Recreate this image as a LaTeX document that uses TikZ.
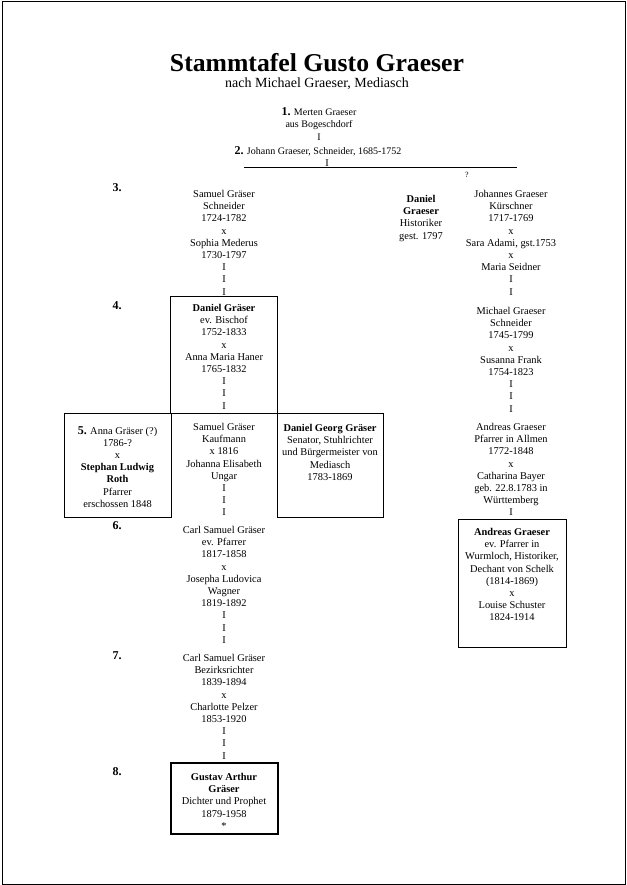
\documentclass[tikz,border=0pt]{standalone}
\usepackage{fontspec}
\setmainfont{Liberation Serif}
\begin{document}
\begin{tikzpicture}[x=1pt,y=-1pt,
  every node/.style={inner sep=0pt},
  txt/.style={font=\fontsize{10.4}{12.2}\selectfont, align=center, anchor=north},
  gen/.style={font=\bfseries\fontsize{12}{14}\selectfont, anchor=base},
  famebox/.style={draw, line width=0.9pt, anchor=north west},
  thickbox/.style={draw, line width=2pt, anchor=north west},
  rule/.style={line width=0.8pt}]
\useasboundingbox (0,0) rectangle (626,885);
\node[draw, line width=1pt, minimum width=623pt, minimum height=882pt, anchor=north west] (frame) at (1.5,1.5) {};

% title
\node[font=\bfseries\fontsize{25.7}{30}\selectfont, anchor=base] (title) at (317,72) {Stammtafel Gusto Graeser};
\node[font=\fontsize{14}{16}\selectfont, anchor=base] (sub) at (317,88) {nach Michael Graeser, Mediasch};

% generations 1 and 2
\node[txt, font=\fontsize{10}{12.5}\selectfont] (g1) at (319,107) {{\bfseries\fontsize{12}{12}\selectfont 1.} Merten Graeser\\aus Bogeschdorf\\I};
\node[txt, font=\fontsize{10}{12.5}\selectfont] (g2) at (318,146) {{\bfseries\fontsize{12}{12}\selectfont 2.} Johann Graeser, Schneider, 1685-1752};
\node[txt] (g2i) at (327,159) {I};
\coordinate (hl) at (244,167);
\coordinate (hr) at (517,167);
\draw[rule] (hl) -- (hr);
\node[txt, font=\fontsize{8}{10}\selectfont] (q) at (467,172) {?};

% generation labels
\node[gen] (n3) at (117,192) {3.};
\node[gen] (n4) at (117,309) {4.};
\node[gen] (n6) at (117,529) {6.};
\node[gen] (n7) at (117,659) {7.};
\node[gen] (n8) at (117,775) {8.};

% boxes
\node[famebox, minimum width=107pt, minimum height=117pt] (b4) at (170,296) {};
\node[famebox, minimum width=107pt, minimum height=104pt] (b5) at (64,413) {};
\node[famebox, minimum width=106pt, minimum height=104pt] (b6) at (277,413) {};
\node[famebox, minimum width=108pt, minimum height=128pt] (ba) at (458,519) {};
\node[thickbox, minimum width=107pt, minimum height=71pt] (b8) at (170,762) {};

% left column
\node[txt] (sg3) at (224,190) {Samuel Gräser\\Schneider\\1724-1782\\x\\Sophia Mederus\\1730-1797\\I\\I\\I};
\node[txt] (dg4) at (224,304) {\textbf{Daniel Gräser}\\ev. Bischof\\1752-1833\\x\\Anna Maria Haner\\1765-1832\\I\\I\\I};
\node[txt] (ag5) at (117.5,426) {{\bfseries\fontsize{12}{12}\selectfont 5.} Anna Gräser (?)\\1786-?\\x\\\textbf{Stephan Ludwig}\\\textbf{Roth}\\Pfarrer\\erschossen 1848};
\node[txt] (sg5) at (224,423) {Samuel Gräser\\Kaufmann\\x 1816\\Johanna Elisabeth\\Ungar\\I\\I\\I};
\node[txt] (dgg) at (330,424) {\textbf{Daniel Georg Gräser}\\Senator, Stuhlrichter\\und Bürgermeister von\\Mediasch\\1783-1869};
\node[txt] (cs6) at (224,526) {Carl Samuel Gräser\\ev. Pfarrer\\1817-1858\\x\\Josepha Ludovica\\Wagner\\1819-1892\\I\\I\\I};
\node[txt] (cs7) at (224,654) {Carl Samuel Gräser\\Bezirksrichter\\1839-1894\\x\\Charlotte Pelzer\\1853-1920\\I\\I\\I};
\node[txt] (ga8) at (224,773) {\textbf{Gustav Arthur}\\\textbf{Gräser}\\Dichter und Prophet\\1879-1958\\*};

% right column
\node[txt] (dgh) at (421,195) {\textbf{Daniel}\\\textbf{Graeser}\\Historiker\\gest. 1797};
\node[txt] (jg) at (511,190) {Johannes Graeser\\Kürschner\\1717-1769\\x\\Sara Adami, gst.1753\\x\\Maria Seidner\\I\\I};
\node[txt] (mg) at (511,307) {Michael Graeser\\Schneider\\1745-1799\\x\\Susanna Frank\\1754-1823\\I\\I\\I};
\node[txt] (agp) at (511,423) {Andreas Graeser\\Pfarrer in Allmen\\1772-1848\\x\\Catharina Bayer\\geb. 22.8.1783 in\\Württemberg\\I};
\node[txt] (agw) at (512,528) {\textbf{Andreas Graeser}\\ev. Pfarrer in\\Wurmloch, Historiker,\\Dechant von Schelk\\(1814-1869)\\x\\Louise Schuster\\1824-1914};
\end{tikzpicture}
\end{document}
